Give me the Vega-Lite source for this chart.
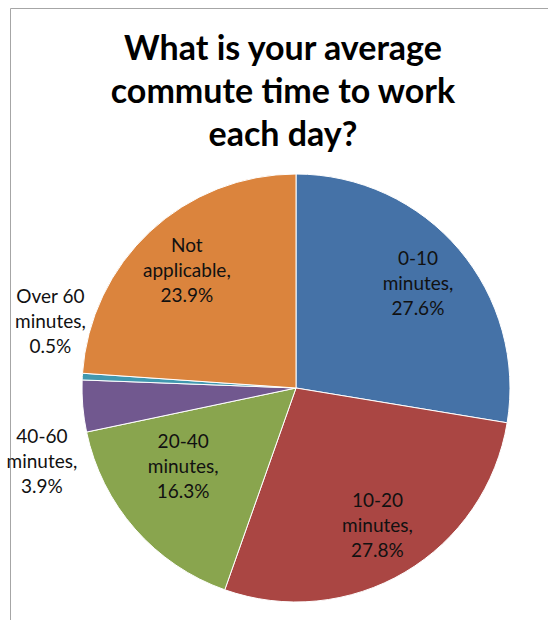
{
  "$schema": "https://vega.github.io/schema/vega-lite/v6.json",
  "autosize": "none",
  "width": 572,
  "height": 760,
  "padding": {"left": 10, "top": 8, "right": -34, "bottom": -148},
  "background": "white",
  "view": {"stroke": "#a6a6a6", "strokeWidth": 1, "fill": "white"},
  "title": {
    "text": ["What is your average", "commute time to work", "each day?"],
    "font": "Lato",
    "fontSize": 34,
    "fontWeight": "bold",
    "lineHeight": 43,
    "color": "#000000",
    "offset": -145,
    "dx": -13
  },
  "config": {"view": {"stroke": "#a6a6a6", "strokeWidth": 1}},
  "data": {
    "values": [
      {"category": "0-10 minutes", "value": 27.6, "order": 1, "label": "0-10\nminutes,\n27.6%"},
      {"category": "10-20 minutes", "value": 27.8, "order": 2, "label": "10-20\nminutes,\n27.8%"},
      {"category": "20-40 minutes", "value": 16.3, "order": 3, "label": "20-40\nminutes,\n16.3%"},
      {"category": "40-60 minutes", "value": 3.9, "order": 4, "label": "40-60\nminutes,\n3.9%"},
      {"category": "Over 60 minutes", "value": 0.5, "order": 5, "label": "Over 60\nminutes,\n0.5%"},
      {"category": "Not applicable", "value": 23.9, "order": 6, "label": "Not\napplicable,\n23.9%"}
    ]
  },
  "encoding": {
    "theta": {"field": "value", "type": "quantitative", "stack": true},
    "order": {"field": "order", "type": "quantitative"},
    "detail": {"field": "category", "type": "nominal"}
  },
  "layer": [
    {
      "mark": {"type": "arc", "outerRadius": 214, "stroke": "white", "strokeWidth": 1},
      "encoding": {
        "color": {
          "field": "category",
          "type": "nominal",
          "scale": {
            "domain": ["0-10 minutes", "10-20 minutes", "20-40 minutes", "40-60 minutes", "Over 60 minutes", "Not applicable"],
            "range": ["#4572A7", "#AA4643", "#89A54E", "#71588F", "#4198AF", "#DB843D"]
          },
          "legend": null
        }
      }
    },
    {
      "mark": {"type": "text", "radius": 160, "dy": -25, "font": "Lato", "fontSize": 19, "lineHeight": 25, "lineBreak": "\n", "color": "#111111"},
      "encoding": {
        "text": {"condition": {"test": "indexof(['0-10 minutes','10-20 minutes','Not applicable'], datum.category) >= 0", "field": "label"}, "value": ""}
      }
    },
    {
      "mark": {"type": "text", "radius": 150, "dy": -45, "font": "Lato", "fontSize": 19, "lineHeight": 25, "lineBreak": "\n", "color": "#111111"},
      "encoding": {
        "text": {"condition": {"test": "datum.category === '20-40 minutes'", "field": "label"}, "value": ""}
      }
    },
    {
      "mark": {"type": "text", "radius": 255, "dx": 0, "dy": 27, "font": "Lato", "fontSize": 19, "lineHeight": 25, "lineBreak": "\n", "color": "#111111"},
      "encoding": {
        "text": {"condition": {"test": "datum.category === '40-60 minutes'", "field": "label"}, "value": ""}
      }
    },
    {
      "mark": {"type": "text", "radius": 255, "dx": 9, "dy": -77, "font": "Lato", "fontSize": 19, "lineHeight": 25, "lineBreak": "\n", "color": "#111111"},
      "encoding": {
        "text": {"condition": {"test": "datum.category === 'Over 60 minutes'", "field": "label"}, "value": ""}
      }
    }
  ]
}
